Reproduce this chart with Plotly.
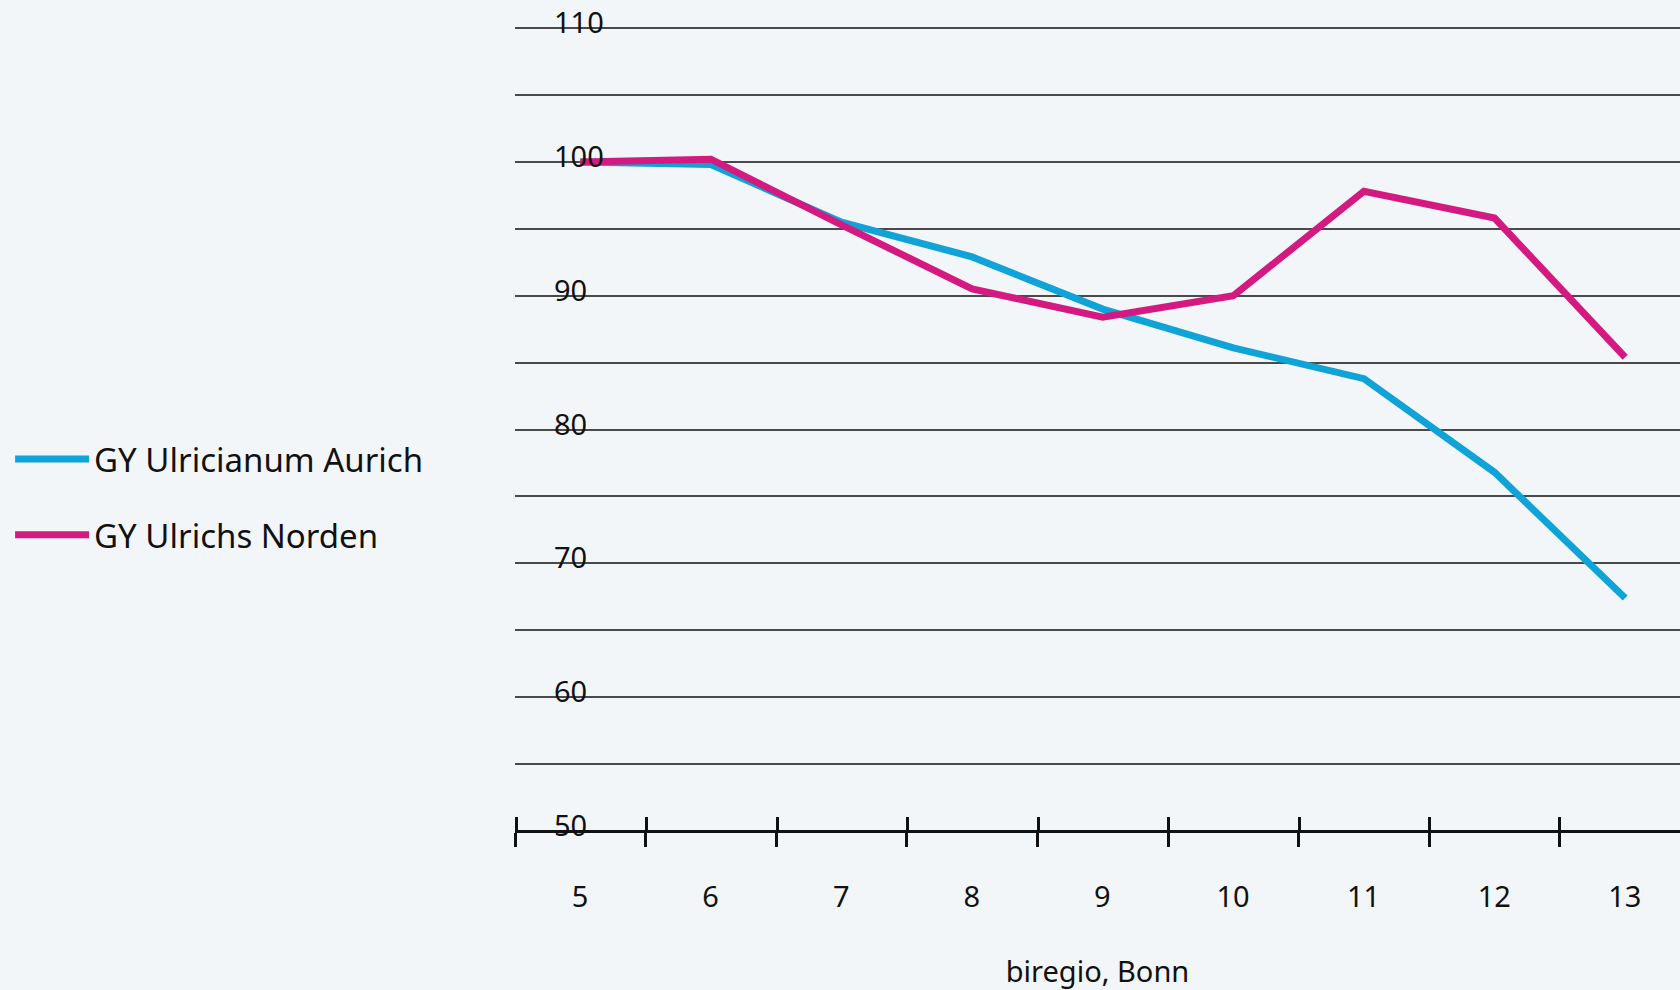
import plotly.graph_objects as go

grades = [5, 6, 7, 8, 9, 10, 11, 12, 13]
aurich = [100.0, 99.8, 95.5, 92.9, 89.0, 86.1, 83.8, 76.8, 67.4]
norden = [100.0, 100.2, 95.3, 90.5, 88.4, 90.0, 97.8, 95.8, 85.4]
series_names = ["GY Ulricianum Aurich", "GY Ulrichs Norden"]
y_ticks = [50, 60, 70, 80, 90, 100, 110]
x_title = "biregio, Bonn"

BLUE = "#0fa3d7"
MAGENTA = "#d41a80"
BG = "#f3f6f9"
INK = "#111111"
FONT = "Noto Sans"

boundaries = [g - 0.5 for g in grades]

fig = go.Figure()
fig.add_trace(go.Scatter(x=grades, y=aurich, mode="lines", name=series_names[0],
                         line=dict(color=BLUE, width=7), legendgroup="a"))
fig.add_trace(go.Scatter(x=grades, y=norden, mode="lines", name=series_names[1],
                         line=dict(color=MAGENTA, width=7), legendgroup="b"))
# helper trace so the overlaid axis (upward half of the crossing ticks) is drawn
fig.add_trace(go.Scatter(x=grades, y=aurich, xaxis="x2", mode="lines",
                         line=dict(width=0, color=BG), opacity=0,
                         showlegend=False, hoverinfo="skip"))

pos = 1.5 / 63.0
xr = [4.5, 13.42]
xr2 = [4.49, 13.42]

fig.update_layout(
    width=1680, height=990,
    margin=dict(l=515, r=0, t=8, b=139),
    paper_bgcolor=BG, plot_bgcolor=BG,
    font=dict(family=FONT, color=INK, size=29),
    showlegend=True,
    legend=dict(xref="container", yref="container", x=0.006, y=0.498,
                xanchor="left", yanchor="middle", tracegroupgap=30,
                itemwidth=74, font=dict(size=33, color=INK),
                bgcolor="rgba(0,0,0,0)"),
    xaxis=dict(range=xr, anchor="free", position=pos,
               tickmode="array", tickvals=boundaries,
               ticktext=[str(g) for g in grades], ticklabelshift=65,
               ticks="outside", ticklen=14, tickwidth=3, tickcolor=INK,
               ticklabelstandoff=25,
               showline=True, linecolor=INK, linewidth=3,
               showgrid=False, zeroline=False,
               tickfont=dict(size=29, color=INK),
               title=dict(text=x_title, font=dict(size=29, color=INK), standoff=48)),
    xaxis2=dict(range=xr2, overlaying="x", anchor="free", position=pos,
                tickmode="array", tickvals=boundaries,
                ticks="inside", ticklen=14, tickwidth=3, tickcolor=INK,
                showticklabels=False, showline=False, showgrid=False, zeroline=False),
    yaxis=dict(range=[48.5, 111.5], tickmode="array", tickvals=y_ticks,
               side="right", anchor="free", position=0,
               ticklabelstandoff=38, ticklabelshift=-5,
               ticks="", showline=False, zeroline=False,
               showgrid=True, gridcolor="#4a4a4a", gridwidth=2,
               minor=dict(dtick=5, tick0=0, showgrid=True, gridcolor="#4a4a4a", gridwidth=2),
               tickfont=dict(size=29, color=INK)),
)

fig.write_html("out.html",
               config={"displayModeBar": False},
               post_script="document.body.style.margin='0';document.body.style.overflow='hidden';"
                           "document.body.style.background='#f3f6f9';")
